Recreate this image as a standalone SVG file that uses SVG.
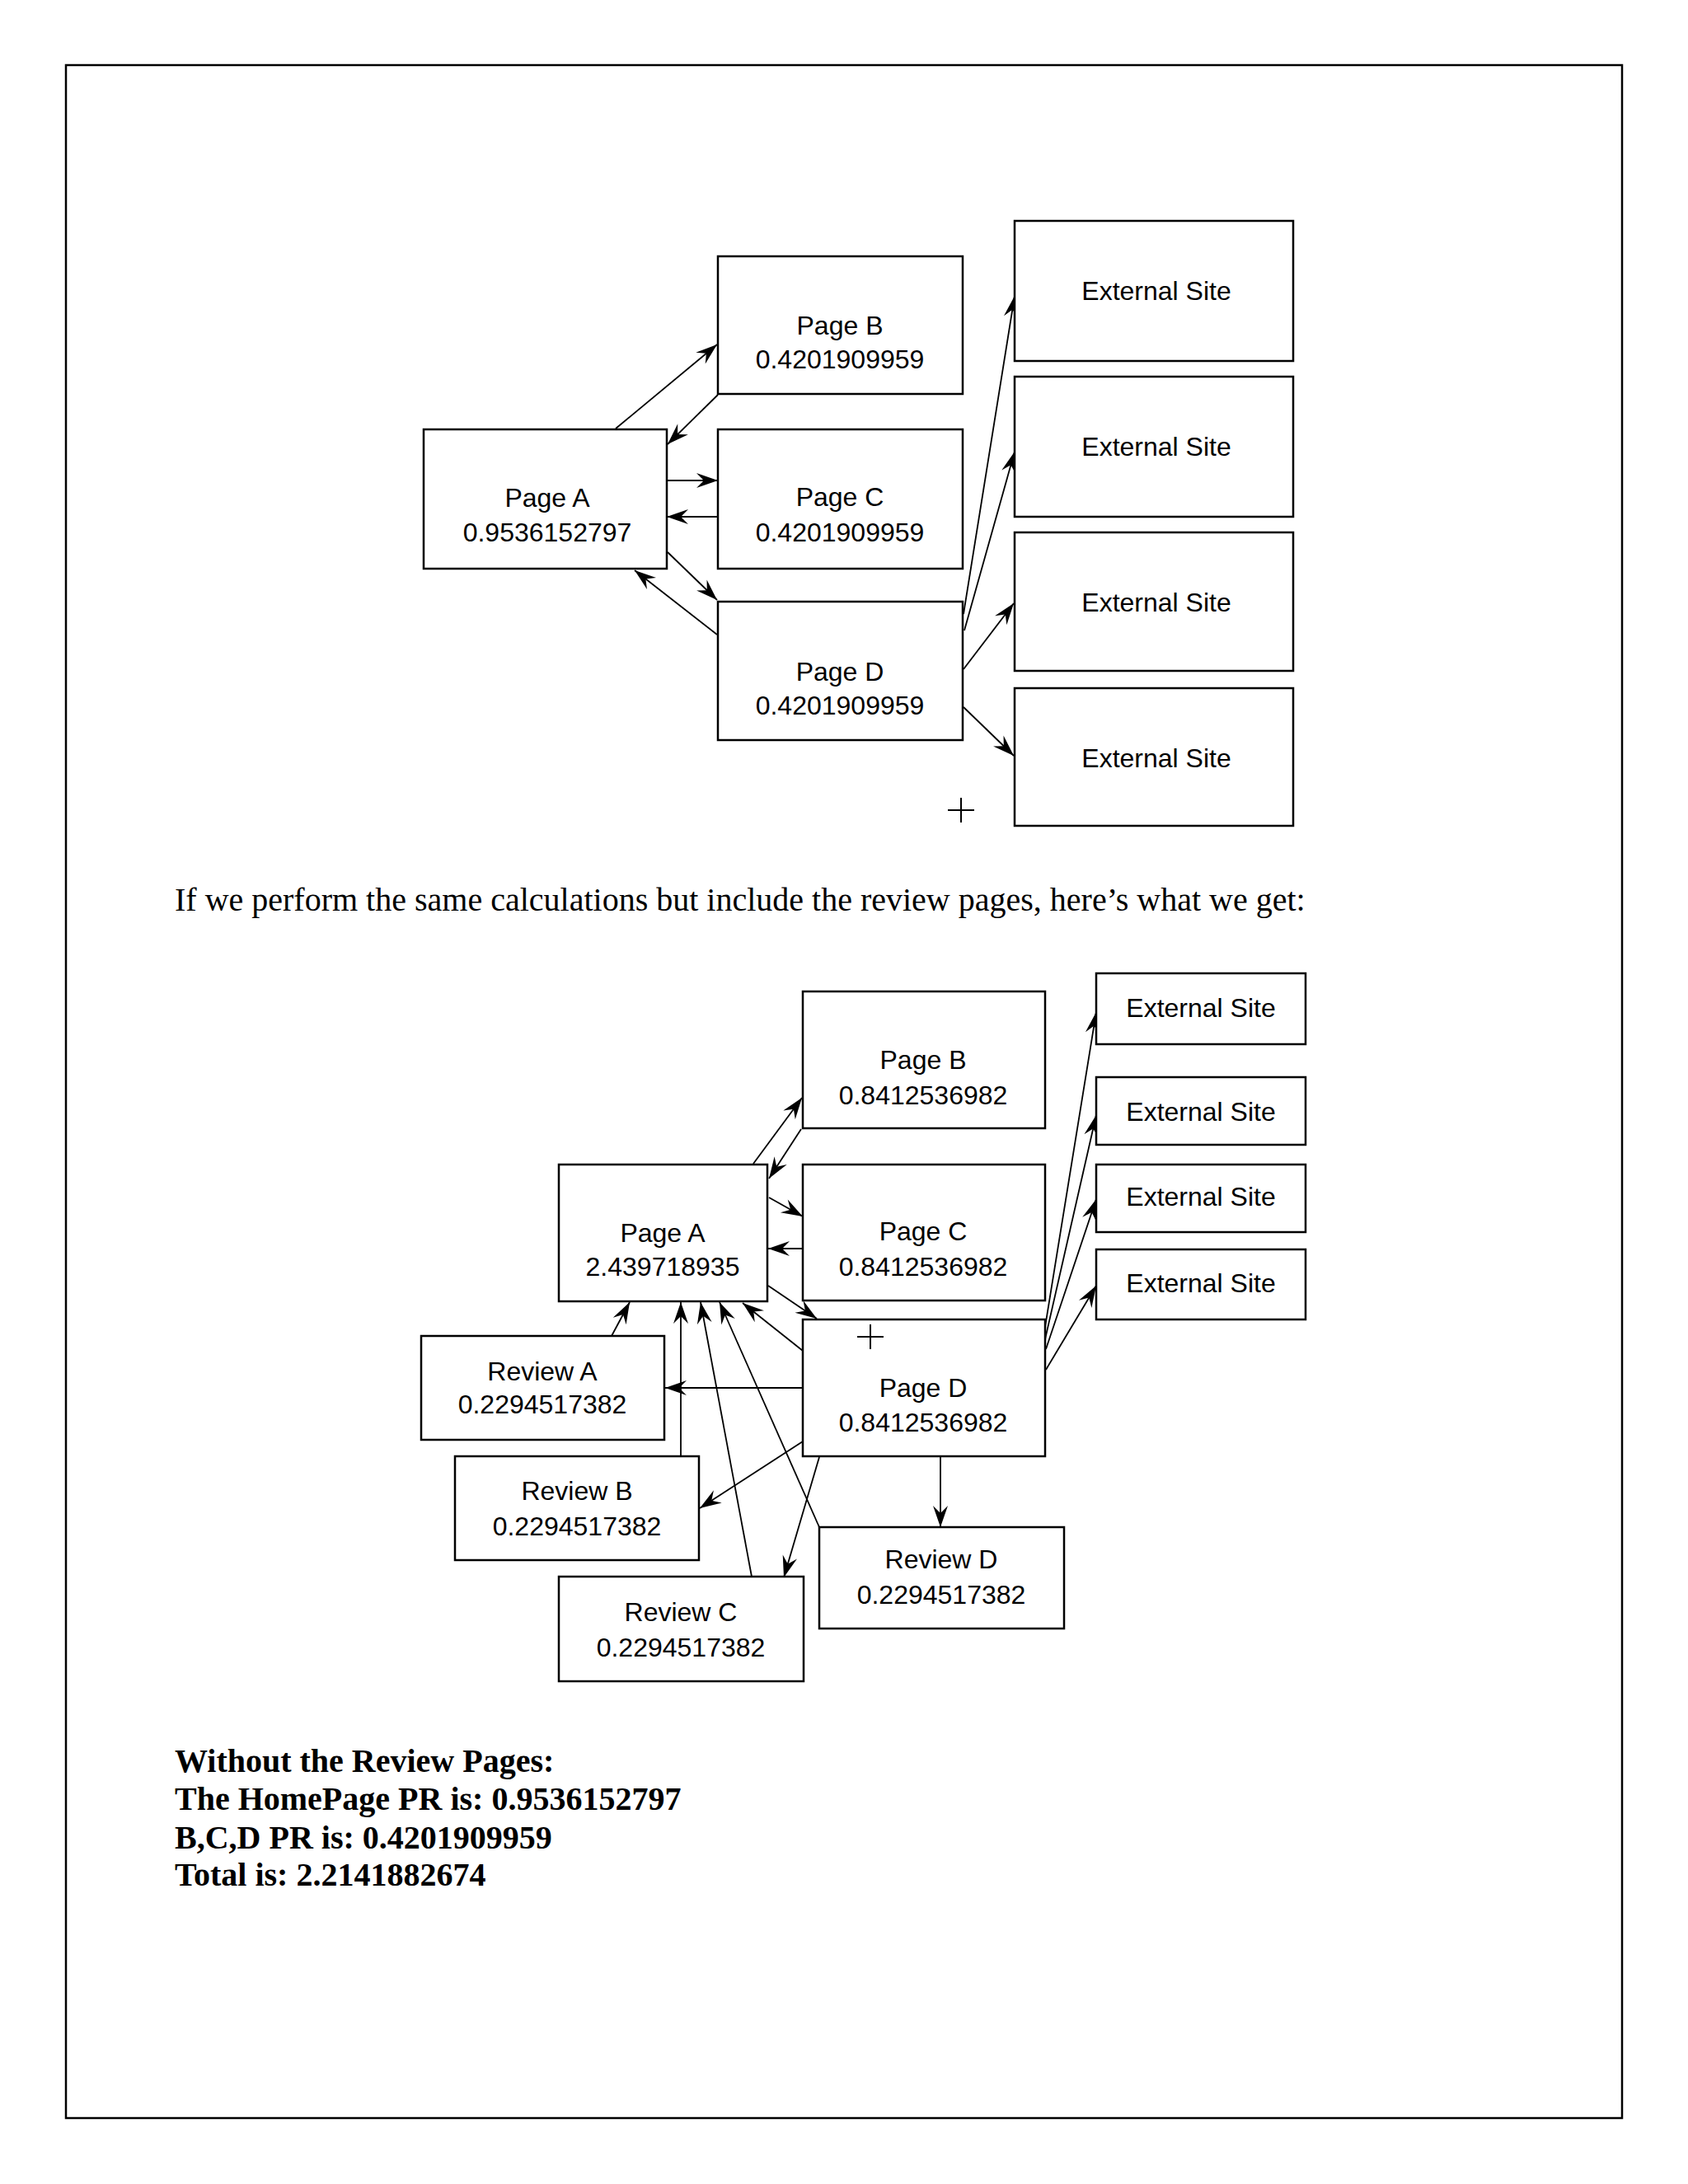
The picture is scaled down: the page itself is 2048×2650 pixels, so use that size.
<svg xmlns="http://www.w3.org/2000/svg" width="2048" height="2650" viewBox="0 0 2048 2650">
<defs>
<marker id="ah" viewBox="-28 -11 30 22" refX="0" refY="0" markerWidth="30" markerHeight="22" markerUnits="userSpaceOnUse" orient="auto">
<path d="M0,0 L-26,-9 L-17,0 L-26,9 Z" fill="#000"/>
</marker>
</defs>
<style>
.box{fill:#fff;stroke:#000;stroke-width:2.5}
.lbl{font-family:"Liberation Sans",Arial,sans-serif;font-size:32px;fill:#000;text-anchor:middle}
.cn line{stroke:#000;stroke-width:1.8;marker-end:url(#ah)}
.para{font-family:"Liberation Serif","Times New Roman",serif;font-size:40px;fill:#000}
.bold{font-family:"Liberation Serif","Times New Roman",serif;font-size:40px;font-weight:bold;fill:#000}
.cross{stroke:#000;stroke-width:2}
</style>
<rect width="2048" height="2650" fill="#fff"/>
<rect x="80" y="79" width="1888" height="2491" fill="none" stroke="#000" stroke-width="2.5"/>

<!-- Top diagram connectors -->
<g id="connectors-top" class="cn">
<line x1="747" y1="520" x2="870" y2="418"/>
<line x1="871" y1="479" x2="810" y2="539"/>
<line x1="809" y1="583" x2="871" y2="583"/>
<line x1="871" y1="627" x2="809" y2="627"/>
<line x1="810" y1="670" x2="870" y2="728"/>
<line x1="870" y1="770" x2="770" y2="692"/>
<line x1="1169" y1="745" x2="1231" y2="359"/>
<line x1="1170" y1="765" x2="1231" y2="548"/>
<line x1="1169" y1="812" x2="1230" y2="732"/>
<line x1="1169" y1="858" x2="1230" y2="917"/>
</g>

<!-- Top diagram nodes -->
<g id="top-page-a"><rect class="box" x="514" y="521" width="295" height="169"/><text class="lbl" x="664" y="615">Page A</text><text class="lbl" x="664" y="657">0.9536152797</text></g>
<g id="top-page-b"><rect class="box" x="871" y="311" width="297" height="167"/><text class="lbl" x="1019" y="406">Page B</text><text class="lbl" x="1019" y="447">0.4201909959</text></g>
<g id="top-page-c"><rect class="box" x="871" y="521" width="297" height="169"/><text class="lbl" x="1019" y="614">Page C</text><text class="lbl" x="1019" y="657">0.4201909959</text></g>
<g id="top-page-d"><rect class="box" x="871" y="730" width="297" height="168"/><text class="lbl" x="1019" y="826">Page D</text><text class="lbl" x="1019" y="867">0.4201909959</text></g>
<g id="top-ext-1"><rect class="box" x="1231" y="268" width="338" height="170"/><text class="lbl" x="1403" y="364">External Site</text></g>
<g id="top-ext-2"><rect class="box" x="1231" y="457" width="338" height="170"/><text class="lbl" x="1403" y="553">External Site</text></g>
<g id="top-ext-3"><rect class="box" x="1231" y="646" width="338" height="168"/><text class="lbl" x="1403" y="742">External Site</text></g>
<g id="top-ext-4"><rect class="box" x="1231" y="835" width="338" height="167"/><text class="lbl" x="1403" y="931">External Site</text></g>
<g id="top-cross"><line class="cross" x1="1150" y1="983" x2="1182" y2="983"/><line class="cross" x1="1166" y1="968" x2="1166" y2="998"/></g>

<text class="para" x="212" y="1105">If we perform the same calculations but include the review pages, here’s what we get:</text>

<!-- Bottom diagram connectors -->
<g id="connectors-bottom" class="cn">
<line x1="914" y1="1412" x2="973" y2="1332"/>
<line x1="972" y1="1370" x2="933" y2="1430"/>
<line x1="933" y1="1453" x2="974" y2="1476"/>
<line x1="974" y1="1515" x2="932" y2="1515"/>
<line x1="932" y1="1560" x2="991" y2="1600"/>
<line x1="742" y1="1621" x2="764" y2="1580"/>
<line x1="974" y1="1684" x2="807" y2="1684"/>
<line x1="826" y1="1767" x2="826" y2="1580"/>
<line x1="912" y1="1913" x2="850" y2="1580"/>
<line x1="994" y1="1853" x2="873" y2="1580"/>
<line x1="974" y1="1639" x2="901" y2="1581"/>
<line x1="974" y1="1749" x2="849" y2="1830"/>
<line x1="994" y1="1768" x2="951" y2="1914"/>
<line x1="1141" y1="1767" x2="1141" y2="1853"/>
<line x1="1268" y1="1610" x2="1330" y2="1228"/>
<line x1="1268" y1="1625" x2="1330" y2="1353"/>
<line x1="1269" y1="1637" x2="1330" y2="1455"/>
<line x1="1269" y1="1662" x2="1330" y2="1560"/>
</g>

<!-- Bottom diagram nodes -->
<g id="bot-page-a"><rect class="box" x="678" y="1413" width="253" height="166"/><text class="lbl" x="804" y="1507">Page A</text><text class="lbl" x="804" y="1548">2.439718935</text></g>
<g id="bot-page-b"><rect class="box" x="974" y="1203" width="294" height="166"/><text class="lbl" x="1120" y="1297">Page B</text><text class="lbl" x="1120" y="1340">0.8412536982</text></g>
<g id="bot-page-c"><rect class="box" x="974" y="1413" width="294" height="165"/><text class="lbl" x="1120" y="1505">Page C</text><text class="lbl" x="1120" y="1548">0.8412536982</text></g>
<g id="bot-page-d"><rect class="box" x="974" y="1601" width="294" height="166"/><text class="lbl" x="1120" y="1695">Page D</text><text class="lbl" x="1120" y="1737">0.8412536982</text></g>
<g id="bot-ext-1"><rect class="box" x="1330" y="1181" width="254" height="86"/><text class="lbl" x="1457" y="1234">External Site</text></g>
<g id="bot-ext-2"><rect class="box" x="1330" y="1307" width="254" height="82"/><text class="lbl" x="1457" y="1360">External Site</text></g>
<g id="bot-ext-3"><rect class="box" x="1330" y="1413" width="254" height="82"/><text class="lbl" x="1457" y="1463">External Site</text></g>
<g id="bot-ext-4"><rect class="box" x="1330" y="1516" width="254" height="85"/><text class="lbl" x="1457" y="1568">External Site</text></g>
<g id="review-a"><rect class="box" x="511" y="1621" width="295" height="126"/><text class="lbl" x="658" y="1675">Review A</text><text class="lbl" x="658" y="1715">0.2294517382</text></g>
<g id="review-b"><rect class="box" x="552" y="1767" width="296" height="126"/><text class="lbl" x="700" y="1820">Review B</text><text class="lbl" x="700" y="1863">0.2294517382</text></g>
<g id="review-c"><rect class="box" x="678" y="1913" width="297" height="127"/><text class="lbl" x="826" y="1967">Review C</text><text class="lbl" x="826" y="2010">0.2294517382</text></g>
<g id="review-d"><rect class="box" x="994" y="1853" width="297" height="123"/><text class="lbl" x="1142" y="1903">Review D</text><text class="lbl" x="1142" y="1946">0.2294517382</text></g>
<g id="bot-cross"><line class="cross" x1="1040" y1="1622" x2="1072" y2="1622"/><line class="cross" x1="1056" y1="1607" x2="1056" y2="1637"/></g>

<text class="bold" x="212" y="2150">Without the Review Pages:</text>
<text class="bold" x="212" y="2196">The HomePage PR is: 0.9536152797</text>
<text class="bold" x="212" y="2243">B,C,D PR is: 0.4201909959</text>
<text class="bold" x="212" y="2288">Total is: 2.2141882674</text>
</svg>
